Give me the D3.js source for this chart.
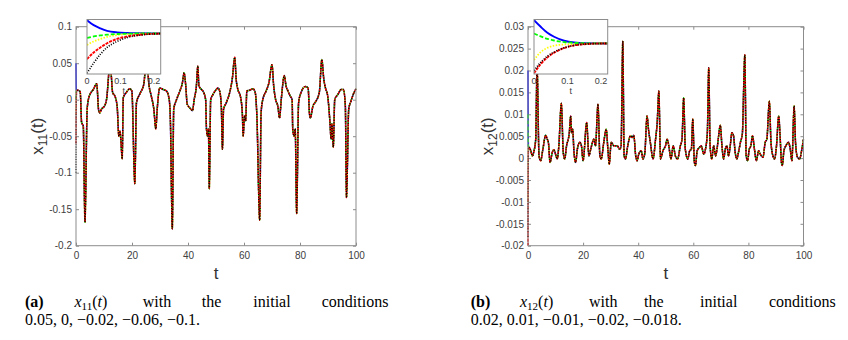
<!DOCTYPE html>
<html><head><meta charset="utf-8">
<script src="https://cdn.jsdelivr.net/npm/d3@7"></script>
<style>body{margin:0;background:#fff} svg{display:block}</style>
</head><body><svg id="c" width="848" height="340"></svg>
<script>
// ---------- DATA ----------
const seriesNames = ["blue", "yellow", "green", "red", "black"];
const transT = [0, 0.02, 0.04, 0.06, 0.09, 0.12, 0.16, 0.22];

// panel (a) x11(t): transients per initial condition 0.05, 0, -0.02, -0.06, -0.1
const transA_blue   = [0.050, 0.036, 0.027, 0.020, 0.0155, 0.0138, 0.013, 0.0125];
const transA_green  = [0.000, 0.004, 0.007, 0.009, 0.011, 0.012, 0.0125, 0.0125];
const transA_yellow = [-0.020, -0.010, -0.003, 0.003, 0.008, 0.0105, 0.012, 0.0125];
const transA_red    = [-0.060, -0.041, -0.027, -0.015, -0.003, 0.004, 0.009, 0.012];
const transA_black  = [-0.100, -0.071, -0.046, -0.027, -0.010, 0.001, 0.008, 0.012];

const tA = [0.7,1.5,2.0,2.6,3.2,4.0,4.75,6.2,7.4,8.1,
  8.5,9.1,10.3,10.9,12.2,13.1,13.9,14.7,15.3,15.7,
  16.0,16.5,16.9,18.0,19.2,19.95,21.0,21.6,22.8,24.2,
  25.2,26.1,26.9,27.8,28.5,29.0,29.9,31.1,32.3,33.3,
  33.7,34.4,34.9,35.9,37.1,38.0,38.6,39.2,39.7,40.6,
  41.6,42.2,43.0,43.5,43.9,44.8,45.6,46.3,46.6,47.0,
  47.3,47.6,48.1,48.9,50.1,50.7,51.3,51.9,52.3,52.7,
  53.7,54.9,55.8,56.7,57.2,57.8,58.7,59.4,59.7,60.2,
  60.6,61.0,62.0,63.2,64.0,64.6,65.6,66.1,66.7,67.9,
  68.9,70.0,70.6,71.3,72.1,72.7,73.3,74.4,75.0,75.7,
  76.5,77.2,77.4,77.9,78.3,78.8,79.5,80.4,81.9,82.9,
  83.4,83.7,84.6,85.7,86.9,87.8,88.5,89.1,89.9,90.7,
  91.1,91.4,91.9,92.4,93.5,94.7,95.5,96.2,96.6,97.4,
  98.2,99.0,100];
const x11 = [0.013,0.011,-0.031,-0.036,-0.168,-0.012,0.005,0.014,0.022,-0.015,
  -0.018,-0.013,-0.008,0.0,0.05,0.0095,0.005,-0.009,-0.05,-0.043,
  -0.054,-0.081,0.003,0.01,0.015,0.012,-0.115,-0.004,0.008,0.021,
  0.055,0.019,0.005,-0.013,-0.04,-0.013,0.016,0.014,0.012,0.0,
  -0.027,-0.177,-0.013,0.0,0.012,0.023,0.037,0.019,-0.006,-0.011,
  -0.015,0.0,0.019,0.046,0.019,0.014,0.01,0.0,-0.04,-0.05,
  -0.04,-0.122,0.0,0.007,0.014,0.016,0.012,-0.009,-0.068,-0.013,
  -0.004,0.01,0.028,0.058,0.028,0.014,0.005,-0.018,-0.05,-0.022,
  -0.029,0.012,0.013,0.015,0.01,-0.022,-0.165,-0.018,0.0,0.012,
  0.023,0.048,0.019,0.0,-0.009,-0.025,0.0,0.033,0.019,0.012,
  0.005,0.0,-0.04,-0.05,-0.04,-0.156,-0.004,0.01,0.018,0.016,
  -0.02,-0.025,-0.009,-0.002,0.01,0.055,0.028,0.016,0.005,-0.031,
  -0.054,-0.033,-0.065,0.0,0.007,0.014,0.014,-0.009,-0.134,-0.013,
  -0.002,0.007,0.015];

// panel (b) x12(t): transients per initial condition 0.02, 0.01, -0.01, -0.02, -0.018
const transB_blue   = [0.020, 0.015, 0.0105, 0.0075, 0.0045, 0.0032, 0.0027, 0.0025];
const transB_green  = [0.010, 0.0078, 0.006, 0.0047, 0.0035, 0.003, 0.0026, 0.0025];
const transB_yellow = [-0.010, -0.004, -0.0008, 0.0008, 0.0017, 0.0021, 0.0024, 0.0025];
const transB_red    = [-0.020, -0.013, -0.008, -0.0045, -0.001, 0.001, 0.0021, 0.0025];
const transB_black  = [-0.018, -0.0118, -0.0072, -0.004, -0.0008, 0.0011, 0.0021, 0.0025];

const tB = [0.5,1.0,1.6,2.2,2.8,3.3,4.0,4.6,5.4,6.4,
  7.0,7.4,8.0,8.8,9.4,10.0,10.6,11.2,12.1,12.8,
  13.3,14.0,15.0,15.5,15.8,16.2,16.7,17.3,17.9,18.8,
  19.4,20.0,21.3,22.1,22.9,23.9,24.5,25.4,26.1,26.6,
  27.5,28.4,29.0,29.5,30.2,31.2,32.4,33.3,33.8,34.4,
  34.9,35.4,36.2,37.2,37.8,38.4,39.1,39.6,40.2,41.1,
  41.7,42.4,43.2,43.8,44.4,45.4,46.3,46.9,47.5,48.1,
  49.0,49.9,50.5,51.1,51.9,52.7,53.5,54.3,55.3,55.9,
  56.5,57.1,58.0,58.7,59.3,59.8,60.4,60.8,61.4,62.2,
  62.9,63.8,64.4,65.1,65.6,66.1,66.7,67.4,68.1,68.6,
  69.2,69.8,70.4,71.0,71.6,72.2,72.8,73.4,74.0,74.6,
  75.2,75.8,76.4,77.1,77.8,78.7,79.2,79.7,80.3,80.9,
  81.5,82.2,82.9,83.7,84.3,85.3,86.1,86.7,87.6,88.2,
  88.9,89.5,90.2,91.0,91.5,92.0,92.3,92.9,93.6,94.6,
  95.2,95.8,96.6,97.1,97.8,98.6,99.4,100];
const x12 = [0.0024,0.0017,0.0005,0.0017,0.0043,0.021,0.0005,-0.0006,0.002,0.0052,
  0.0043,0.0036,-0.001,0.0013,0.0019,0.0009,-0.0002,0.0028,0.0125,0.0013,
  -0.0002,0.0028,0.0058,0.0096,0.0058,0.0066,0.0013,-0.001,0.002,0.0036,
  0.0028,-0.0006,0.0081,0.0005,0.0024,0.0043,0.0028,0.0123,0.0005,-0.0002,
  0.0036,0.0066,0.002,-0.0014,0.0036,0.0028,0.0028,0.002,0.0028,0.0267,
  0.0005,-0.0002,0.0028,0.0051,0.0047,0.0052,0.0005,-0.0006,0.0009,0.0017,
  -0.0002,0.0011,0.0096,0.0062,0.0036,-0.0002,0.0043,0.0081,0.0153,-0.0002,
  0.0017,0.0028,0.0043,0.0028,-0.0002,0.0028,0.0005,-0.0002,0.0028,0.0043,
  0.0138,0.002,-0.0002,0.0017,0.002,0.0089,-0.001,-0.0017,0.0017,0.0024,
  0.0028,0.0009,0.002,0.0058,0.0206,0.0028,-0.0002,0.0028,0.0005,0.002,
  0.0051,0.0075,0.0028,-0.0002,0.002,0.0028,0.0005,0.0028,0.0058,0.0051,
  0.0013,-0.0002,0.0013,0.0036,0.0055,0.0236,0.0005,-0.0006,0.002,0.0028,
  0.0051,0.002,-0.0006,0.0017,0.0009,0.0002,0.0036,0.0043,0.013,0.0036,
  0.0005,-0.0002,0.0028,0.0096,0.0051,-0.001,-0.0017,0.0017,0.0028,0.0036,
  0.002,-0.0006,0.0119,0.0036,0.0002,-0.0002,0.002,0.0043];

const xTicks = [0, 20, 40, 60, 80, 100];
const xTickLabels = ["0", "20", "40", "60", "80", "100"];
const yTicksA = [-0.2, -0.15, -0.1, -0.05, 0, 0.05, 0.1];
const yTickLabelsA = ["-0.2", "-0.15", "-0.1", "-0.05", "0", "0.05", "0.1"];
const yTicksB = [-0.02, -0.015, -0.01, -0.005, 0, 0.005, 0.01, 0.015, 0.02, 0.025, 0.03];
const yTickLabelsB = ["-0.02", "-0.015", "-0.01", "-0.005", "0", "0.005", "0.01", "0.015", "0.02", "0.025", "0.03"];
const insetTicks = [0, 0.1, 0.2];
const insetTickLabels = ["0", "0.1", "0.2"];

// ---------- STYLE ----------
const lineStyles = {
  blue:   {c: "#0000ff", w: 1.5, dash: null},
  yellow: {c: "#ffff00", w: 1.3, dash: "1.5 1.5"},
  green:  {c: "#00ff00", w: 1.4, dash: "4 2"},
  red:    {c: "#ff0000", w: 1.5, dash: "3 1"},
  black:  {c: "#000000", w: 1.3, dash: "1 1.5"}
};
const axisColor = "#8c8c8c", textColor = "#404040";
const sansFont = "'Liberation Sans', Arial, sans-serif";
const serifFont = "'Liberation Serif', 'Times New Roman', serif";

const svg = d3.select("#c");
const defs = svg.append("defs");

function buildSeries(trans, tMain, xMain) {
  const pts = transT.map((t, i) => [t, trans[i]]);
  return pts.concat(tMain.map((t, i) => [t, xMain[i]]));
}

function panel(p) {
  const x = d3.scaleLinear().domain([0, 100]).range([p.x0, p.x1]);
  const y = d3.scaleLinear().domain(p.yDom).range([p.y1, p.y0]);
  const g = svg.append("g");

  defs.append("clipPath").attr("id", "clip" + p.id).append("rect")
    .attr("x", p.x0 - 1).attr("y", p.y0).attr("width", p.x1 - p.x0 + 2).attr("height", p.y1 - p.y0);

  // axes
  const ax = g.append("g").attr("class", "axes");
  ax.append("g").attr("transform", `translate(${p.x0},0)`)
    .call(d3.axisLeft(y).tickValues(p.yTicks).tickFormat((d, i) => p.yLabels[i]).tickSizeInner(-3).tickSizeOuter(0).tickPadding(4));
  ax.append("g").attr("transform", `translate(${p.x1},0)`)
    .call(d3.axisRight(y).tickValues(p.yTicks).tickFormat("").tickSizeInner(-3).tickSizeOuter(0));
  ax.append("g").attr("transform", `translate(0,${p.y1})`)
    .call(d3.axisBottom(x).tickValues(xTicks).tickFormat((d, i) => xTickLabels[i]).tickSizeInner(-3).tickSizeOuter(0).tickPadding(6));
  ax.append("g").attr("transform", `translate(0,${p.y0})`)
    .call(d3.axisTop(x).tickValues(xTicks).tickFormat("").tickSizeInner(-3).tickSizeOuter(0));
  ax.selectAll(".domain").remove();
  ax.selectAll(".tick line").attr("stroke", axisColor);
  ax.selectAll(".tick text").attr("fill", textColor).style("font-family", sansFont).style("font-size", "10px");

  // lines
  const line = d3.line().x(d => x(d[0])).y(d => y(d[1])).curve(d3.curveMonotoneX);
  const lg = g.append("g").attr("clip-path", `url(#clip${p.id})`);
  seriesNames.forEach(s => {
    const st = lineStyles[s];
    lg.append("path").datum(p.series[s]).attr("d", line)
      .attr("fill", "none").attr("stroke", st.c).attr("stroke-width", st.w)
      .attr("stroke-dasharray", st.dash).attr("stroke-linejoin", "round");
  });

  // box
  g.append("rect").attr("x", p.x0).attr("y", p.y0).attr("width", p.x1 - p.x0).attr("height", p.y1 - p.y0)
    .attr("fill", "none").attr("stroke", axisColor).attr("stroke-width", 1);

  // labels
  const yl = g.append("text").attr("transform", `translate(${p.labX},${(p.y0 + p.y1) / 2}) rotate(-90)`)
    .attr("text-anchor", "middle").attr("fill", "#333").style("font-family", sansFont).style("font-size", "17px");
  yl.append("tspan").text("x");
  yl.append("tspan").attr("font-size", "12px").attr("dy", 4).text(p.sub);
  yl.append("tspan").attr("dy", -4).text("(t)");
  g.append("text").attr("x", (p.x0 + p.x1) / 2).attr("y", 279).attr("text-anchor", "middle")
    .attr("fill", "#333").style("font-family", sansFont).style("font-size", "17px").text("t");

  // inset
  const ix = d3.scaleLinear().domain([0, 0.22]).range([p.ix0, p.ix1]);
  const iy = d3.scaleLinear().domain(p.iyDom).range([p.iy1, p.iy0]);
  const ig = svg.append("g");
  ig.append("rect").attr("x", p.ix0).attr("y", p.iy0).attr("width", p.ix1 - p.ix0).attr("height", p.iy1 - p.iy0).attr("fill", "#fff");
  defs.append("clipPath").attr("id", "iclip" + p.id).append("rect")
    .attr("x", p.ix0).attr("y", p.iy0 - 1).attr("width", p.ix1 - p.ix0).attr("height", p.iy1 - p.iy0 + 2);
  const iline = d3.line().x(d => ix(d[0])).y(d => iy(d[1])).curve(d3.curveMonotoneX);
  const ilg = ig.append("g").attr("clip-path", `url(#iclip${p.id})`);
  seriesNames.forEach(s => {
    const st = lineStyles[s];
    ilg.append("path").datum(p.series[s]).attr("d", iline)
      .attr("fill", "none").attr("stroke", st.c).attr("stroke-width", st.w + 0.4)
      .attr("stroke-dasharray", st.dash);
  });
  ig.append("rect").attr("x", p.ix0).attr("y", p.iy0).attr("width", p.ix1 - p.ix0).attr("height", p.iy1 - p.iy0)
    .attr("fill", "none").attr("stroke", axisColor).attr("stroke-width", 1);
  ig.selectAll("text.it").data(insetTicks).join("text").attr("class", "it")
    .attr("x", d => ix(d)).attr("y", 83.5).attr("text-anchor", "middle")
    .attr("fill", textColor).style("font-family", sansFont).style("font-size", "9px")
    .text((d, i) => insetTickLabels[i]);
  ig.append("text").attr("x", (p.ix0 + p.ix1) / 2).attr("y", 93.5).attr("text-anchor", "middle")
    .attr("fill", textColor).style("font-family", sansFont).style("font-size", "9px").text("t");
}

panel({
  id: "A", x0: 76, x1: 356, y0: 26.7, y1: 245.7, yDom: [-0.2, 0.1],
  yTicks: yTicksA, yLabels: yTickLabelsA, labX: 43, sub: "11",
  ix0: 87, ix1: 160.7, iy0: 19.5, iy1: 74, iyDom: [-0.102, 0.052],
  series: {
    blue: buildSeries(transA_blue, tA, x11), green: buildSeries(transA_green, tA, x11),
    yellow: buildSeries(transA_yellow, tA, x11), red: buildSeries(transA_red, tA, x11),
    black: buildSeries(transA_black, tA, x11)
  }
});
panel({
  id: "B", x0: 528, x1: 803.5, y0: 26.7, y1: 245.7, yDom: [-0.02, 0.03],
  yTicks: yTicksB, yLabels: yTickLabelsB, labX: 493, sub: "12",
  ix0: 534, ix1: 607.7, iy0: 19.5, iy1: 74, iyDom: [-0.0205, 0.0205],
  series: {
    blue: buildSeries(transB_blue, tB, x12), green: buildSeries(transB_green, tB, x12),
    yellow: buildSeries(transB_yellow, tB, x12), red: buildSeries(transB_red, tB, x12),
    black: buildSeries(transB_black, tB, x12)
  }
});

// ---------- CAPTIONS ----------
function caption(tag, sub, words, line2, y1, y2) {
  const cg = svg.append("g").style("font-family", serifFont).style("font-size", "16px").attr("fill", "#000");
  cg.append("text").attr("x", words[0]).attr("y", y1).attr("font-weight", "bold").text(tag);
  const m = cg.append("text").attr("x", words[1]).attr("y", y1);
  m.append("tspan").attr("font-style", "italic").text("x");
  m.append("tspan").attr("font-size", "11px").attr("dy", 2.5).text(sub);
  m.append("tspan").attr("dy", -2.5).text("(");
  m.append("tspan").attr("font-style", "italic").text("t");
  m.append("tspan").text(")");
  ["with", "the", "initial", "conditions"].forEach((w, i) => {
    cg.append("text").attr("x", words[i + 2]).attr("y", y1).text(w);
  });
  cg.append("text").attr("x", words[0]).attr("y", y2).text(line2);
}
caption("(a)", "11", [25, 74.5, 142.7, 201.7, 253.3, 321.7], "0.05, 0, \u22120.02, \u22120.06, \u22120.1.", 307, 325);
caption("(b)", "12", [470.7, 520, 589, 644, 700, 769], "0.02, 0.01, \u22120.01, \u22120.02, \u22120.018.", 307, 325);
</script>
</body></html>
